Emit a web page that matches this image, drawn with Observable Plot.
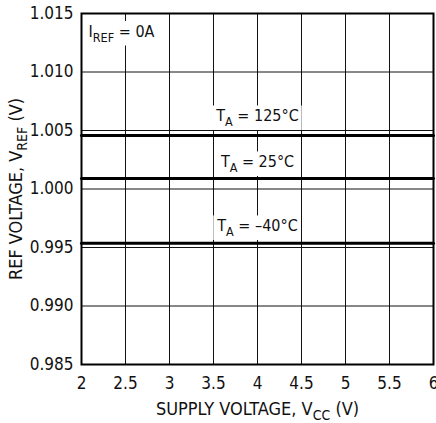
<!DOCTYPE html>
<html><head><meta charset="utf-8">
<script src="https://cdn.jsdelivr.net/npm/d3@7"></script>
<script src="https://cdn.jsdelivr.net/npm/@observablehq/plot@0.6"></script>
<style>
body{margin:0;background:#fff}
#chart svg{overflow:visible}
</style>
</head><body><div id="chart"></div>
<script>
// ---- data ----
const supplyVoltage = [2, 6];
const vrefT125 = [1.00457, 1.00457];
const vrefT25 = [1.0009, 1.0009];
const vrefTm40 = [0.99537, 0.99537];
const xTicks = [2, 2.5, 3, 3.5, 4, 4.5, 5, 5.5, 6];
const xTickLabels = ["2", "2.5", "3", "3.5", "4", "4.5", "5", "5.5", "6"];
const yTicks = [0.985, 0.990, 0.995, 1.000, 1.005, 1.010, 1.015];
const yTickLabels = ["0.985", "0.990", "0.995", "1.000", "1.005", "1.010", "1.015"];
const curveLabels = ["T_{A} = 125°C", "T_{A} = 25°C", "T_{A} = –40°C"];
const curveLabelX = [4, 4, 4];
const curveLabelY = [1.00577, 1.00184, 0.99637];
const noteText = "I_{REF} = 0A";
const noteX = 2.08, noteY = 1.01299;
const xTitle = "SUPPLY VOLTAGE, V_{CC} (V)";
const yTitle = "REF VOLTAGE, V_{REF} (V)";

const FONT = '"DejaVu Sans Condensed", "Liberation Sans Narrow", sans-serif';

const series = [vrefT125, vrefT25, vrefTm40].flatMap((vals, s) =>
  supplyVoltage.map((v, i) => ({x: v, y: vals[i], s})));
const labels = curveLabels.map((t, i) => ({t, x: curveLabelX[i], y: curveLabelY[i]}));

const plot = Plot.plot({
  width: 436, height: 423,
  marginLeft: 81, marginRight: 3, marginTop: 13, marginBottom: 59,
  style: {fontFamily: FONT, fontSize: "17px", color: "#111", background: "white"},
  x: {domain: [2, 6], ticks: xTicks, tickFormat: d => xTickLabels[xTicks.indexOf(d)], tickSize: 0, tickPadding: 12, label: null},
  y: {domain: [0.985, 1.015], ticks: yTicks, tickFormat: d => yTickLabels[yTicks.findIndex(t => Math.abs(t - d) < 1e-9)], tickSize: 0, tickPadding: 8, label: null},
  marks: [
    Plot.ruleX(xTicks, {stroke: "#111", strokeWidth: 1}),
    Plot.ruleY(yTicks, {stroke: "#111", strokeWidth: 1}),
    Plot.text(labels, {x: "x", y: "y", text: "t", textAnchor: "middle", lineAnchor: "bottom", fontSize: 16, fill: "#111", className: "boxed"}),
    Plot.text([noteText], {x: () => noteX, y: () => noteY, text: d => d, textAnchor: "start", lineAnchor: "bottom", fontSize: 16, fill: "#111", className: "boxed"}),
    Plot.line(series, {x: "x", y: "y", z: "s", stroke: "black", strokeWidth: 3}),
    Plot.frame({stroke: "black", strokeWidth: 2}),
    Plot.text([xTitle], {frameAnchor: "bottom", textAnchor: "middle", lineAnchor: "middle", dy: 45, text: d => d, fontSize: 18, fill: "#111"}),
    Plot.text([yTitle], {frameAnchor: "left", textAnchor: "middle", lineAnchor: "middle", dx: -65, rotate: -90, text: d => d, fontSize: 18, fill: "#111"})
  ]
});
document.getElementById("chart").appendChild(plot);

// subscripts
d3.select(plot).selectAll("text").each(function() {
  const el = this;
  const s = el.textContent;
  if (!s.includes("_{")) return;
  const fs = parseFloat(getComputedStyle(el).fontSize) || 16;
  const shift = fs * 0.28;
  el.textContent = "";
  const parts = s.split(/(_\{[^}]*\})/);
  let down = false;
  for (const p of parts) {
    if (!p) continue;
    const ts = document.createElementNS("http://www.w3.org/2000/svg", "tspan");
    if (p.startsWith("_{")) {
      ts.textContent = p.slice(2, -1);
      ts.setAttribute("font-size", (fs * 0.78).toFixed(1));
      ts.setAttribute("dy", shift.toFixed(1));
      down = true;
    } else {
      ts.textContent = p;
      if (down) { ts.setAttribute("dy", (-shift).toFixed(1)); down = false; }
    }
    el.appendChild(ts);
  }
});

// white boxes behind boxed labels
const svgBox = plot.getBoundingClientRect();
d3.select(plot).selectAll("g.boxed").each(function() {
  const g = this;
  d3.select(g).selectAll("text").each(function() {
    const b = this.getBoundingClientRect();
    const r = document.createElementNS("http://www.w3.org/2000/svg", "rect");
    r.setAttribute("x", b.left - svgBox.left - 3);
    r.setAttribute("y", b.top - svgBox.top - 1);
    r.setAttribute("width", b.width + 6);
    r.setAttribute("height", b.height + 2);
    r.setAttribute("fill", "white");
    g.parentNode.insertBefore(r, g);
  });
});
</script>
</body></html>
